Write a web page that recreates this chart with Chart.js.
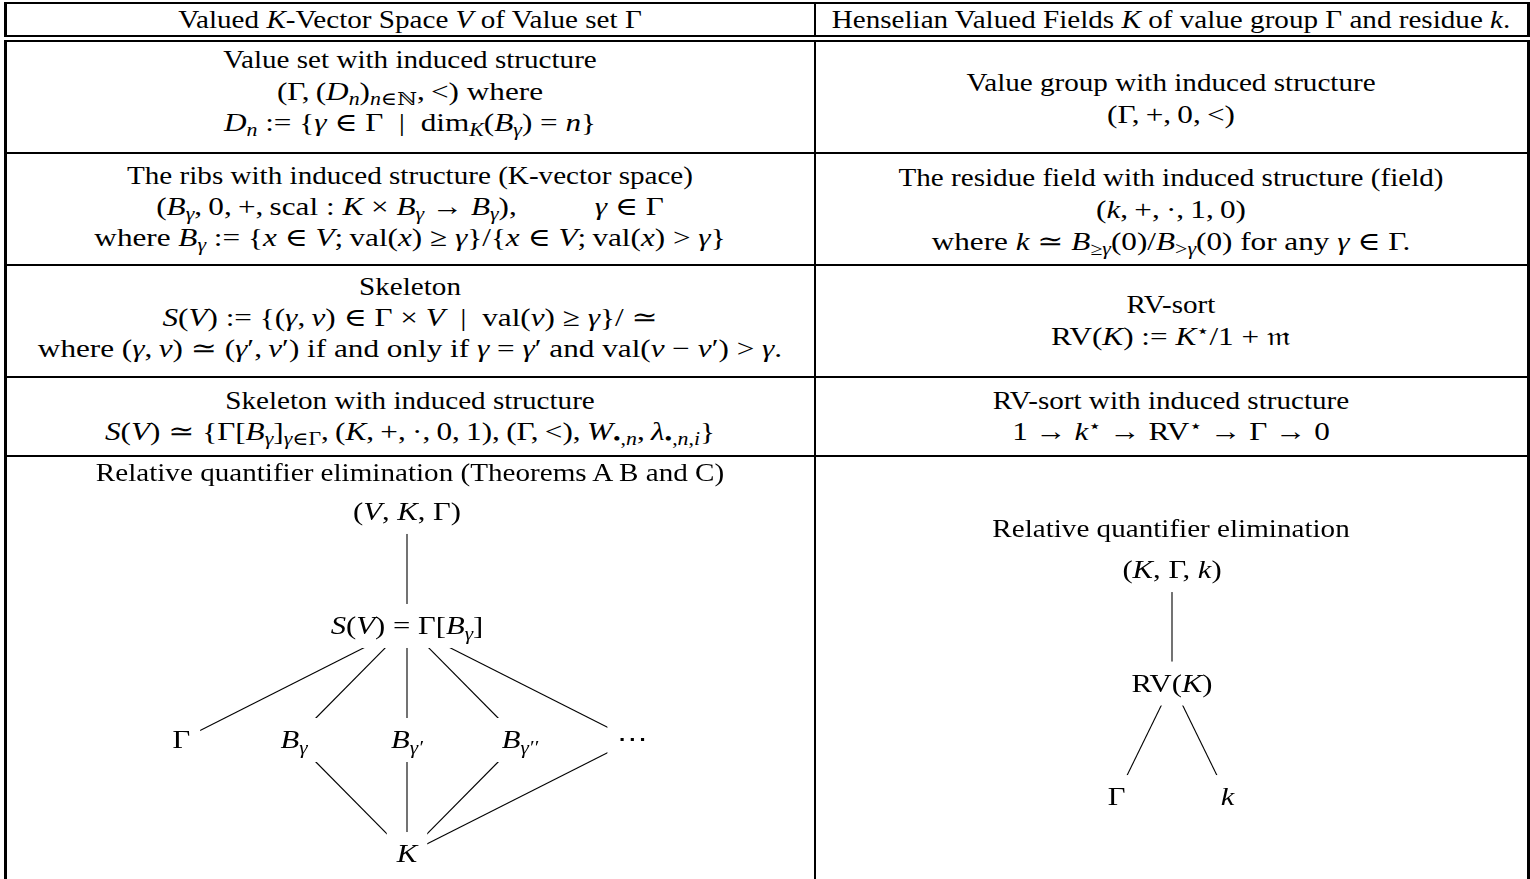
<!DOCTYPE html>
<html>
<head>
<meta charset="utf-8">
<script src="https://cdn.jsdelivr.net/npm/chart.js@4.4.1/dist/chart.umd.min.js"></script>
<style>
  html, body { margin: 0; padding: 0; background: #fff; overflow: hidden; }
  #page { position: relative; width: 1530px; height: 879px; overflow: hidden; }
  .rule { position: absolute; background: #000; }
  .txt {
    position: absolute; white-space: nowrap;
    font-family: "Liberation Serif", "DejaVu Serif", serif; font-size: 26px; line-height: 1; color: #000;
  }
  .txt sub { font-size: 0.7em; vertical-align: -0.3em; line-height: 0; }
  .txt sup { font-size: 0.7em; vertical-align: 0.45em; line-height: 0; }
  canvas { position: absolute; }
</style>
</head>
<body>
<div id="page">
  <canvas id="leftDiagram"></canvas>
  <canvas id="rightDiagram"></canvas>
</div>
<script>
// table texts
const headers = [
  'Valued <i>K</i>-Vector Space <i>V</i> of Value set Γ',
  'Henselian Valued Fields <i>K</i> of value group Γ and residue <i>k</i>.'
];
const leftCells = [
  ['Value set with induced structure',
   '(Γ,&thinsp;(<i>D<sub>n</sub></i>)<sub><i>n</i>∈ℕ</sub>,&thinsp;&lt;) where',
   '<i>D<sub>n</sub></i> := {<i>γ</i> ∈ Γ &nbsp;|&nbsp; dim<sub><i>K</i></sub>(<i>B<sub>γ</sub></i>) = <i>n</i>}'],
  ['The ribs with induced structure (K-vector space)',
   '(<i>B<sub>γ</sub></i>,&thinsp;0,&thinsp;+,&thinsp;scal : <i>K</i> × <i>B<sub>γ</sub></i> → <i>B<sub>γ</sub></i>),&emsp;&emsp;&ensp;<i>γ</i> ∈ Γ',
   'where <i>B<sub>γ</sub></i> := {<i>x</i> ∈ <i>V</i>;&thinsp;val(<i>x</i>) ≥ <i>γ</i>}/{<i>x</i> ∈ <i>V</i>;&thinsp;val(<i>x</i>) &gt; <i>γ</i>}'],
  ['Skeleton',
   '<i>S</i>(<i>V</i>) := {(<i>γ</i>,&thinsp;<i>v</i>) ∈ Γ × <i>V</i> &nbsp;|&nbsp; val(<i>v</i>) ≥ <i>γ</i>}/ ≃',
   'where (<i>γ</i>,&thinsp;<i>v</i>) ≃ (<i>γ</i>′,&thinsp;<i>v</i>′) if and only if <i>γ</i> = <i>γ</i>′ and val(<i>v</i> − <i>v</i>′) &gt; <i>γ</i>.'],
  ['Skeleton with induced structure',
   '<i>S</i>(<i>V</i>) ≃ {Γ[<i>B<sub>γ</sub></i>]<sub><i>γ</i>∈Γ</sub>,&thinsp;(<i>K</i>,&thinsp;+,&thinsp;·,&thinsp;0,&thinsp;1),&thinsp;(Γ,&thinsp;&lt;),&thinsp;<i>W</i><sub>•,<i>n</i></sub>,&thinsp;<i>λ</i><sub>•,<i>n</i>,<i>i</i></sub>}']
];
const rightCells = [
  ['Value group with induced structure',
   '(Γ,&thinsp;+,&thinsp;0,&thinsp;&lt;)'],
  ['The residue field with induced structure (field)',
   '(<i>k</i>,&thinsp;+,&thinsp;·,&thinsp;1,&thinsp;0)',
   'where <i>k</i> ≃ <i>B</i><sub>≥<i>γ</i></sub>(0)/<i>B</i><sub>&gt;<i>γ</i></sub>(0) for any <i>γ</i> ∈ Γ.'],
  ['RV-sort',
   'RV(<i>K</i>) := <i>K</i><sup>⋆</sup>/1 + 𝔪'],
  ['RV-sort with induced structure',
   '1 → <i>k</i><sup>⋆</sup> → RV<sup>⋆</sup> → Γ → 0']
];
const diagramTitles = [
  'Relative quantifier elimination (Theorems A B and C)',
  'Relative quantifier elimination'
];

// diagram nodes (grid column / row) and edges
const leftNodeLabels = [
  [['(', 'r'], ['V', 'i'], [', ', 'r'], ['K', 'i'], [', Γ)', 'r']],
  [['S', 'i'], ['(', 'r'], ['V', 'i'], [') = Γ[', 'r'], ['B', 'i'], ['γ', 's'], [']', 'r']],
  [['Γ', 'r']],
  [['B', 'i'], ['γ', 's']],
  [['B', 'i'], ['γ′', 's']],
  [['B', 'i'], ['γ′′', 's']],
  [['⋯', 'r']],
  [['K', 'i']]
];
const leftNodeCol = [2, 2, 0, 1, 2, 3, 4, 2];
const leftNodeRow = [0, 1, 2, 2, 2, 2, 2, 3];
const leftEdges = [[0, 1], [1, 2], [1, 3], [1, 4], [1, 5], [1, 6], [3, 7], [4, 7], [5, 7], [6, 7]];

const rightNodeLabels = [
  [['(', 'r'], ['K', 'i'], [', Γ, ', 'r'], ['k', 'i'], [')', 'r']],
  [['RV(', 'r'], ['K', 'i'], [')', 'r']],
  [['Γ', 'r']],
  [['k', 'i']]
];
const rightNodeCol = [0, 0, -0.5, 0.5];
const rightNodeRow = [0, 1, 2, 2];
const rightEdges = [[0, 1], [1, 2], [1, 3]];

// layout
const colX = [410, 1171];
const leftLineY = [[60, 92, 123], [176, 207, 238], [287, 318, 349], [401, 432]];
const rightLineY = [[83, 115], [178, 210, 242], [305, 337], [401, 432]];
const titleY = [473, 529];
const FONT = '"Liberation Serif", "DejaVu Serif", serif';
const TEXT_SX = 1.12;   // Times is narrower than Computer Modern
const MATH_SX = 1.2;
const LABEL_SX = 1.18;

const page = document.getElementById('page');

function rule(x, y, w, h) {
  const d = document.createElement('div');
  d.className = 'rule';
  d.style.left = x + 'px'; d.style.top = y + 'px';
  d.style.width = w + 'px'; d.style.height = h + 'px';
  page.appendChild(d);
}
function text(html, x, y, sx) {
  const d = document.createElement('div');
  d.className = 'txt';
  d.innerHTML = html;
  d.style.left = x + 'px'; d.style.top = y + 'px';
  d.style.transform = 'translate(-50%, -50%) scaleX(' + sx + ')';
  page.appendChild(d);
}
const isMath = l => /^(\(|<i>|where|RV\(|1 )/.test(l);

// borders
[2, 35, 40, 152, 264, 376, 455].forEach(y => rule(4, y, 1526, 2));
[[4, 3], [814, 2], [1527, 3]].forEach(([x, w]) => {
  rule(x, 2, w, 35);
  rule(x, 40, w, 839);
});

text(headers[0], colX[0], 20, TEXT_SX);
text(headers[1], colX[1], 20, TEXT_SX);
leftCells.forEach((lines, r) => lines.forEach((l, i) =>
  text(l, colX[0], leftLineY[r][i], isMath(l) ? MATH_SX : TEXT_SX)));
rightCells.forEach((lines, r) => lines.forEach((l, i) =>
  text(l, colX[1], rightLineY[r][i], isMath(l) ? MATH_SX : TEXT_SX)));
text(diagramTitles[0], colX[0], titleY[0], TEXT_SX);
text(diagramTitles[1], colX[1], titleY[1], TEXT_SX);

// labels drawn over the edges, white box hides the edge ends like xy-pic does
const nodeLabels = {
  id: 'nodeLabels',
  afterDatasetsDraw(chart, args, opts) {
    const ctx = chart.ctx;
    const xs = chart.scales.x, ys = chart.scales.y;
    const fontOf = st => (st === 'i' ? 'italic 26px ' : st === 's' ? 'italic 18px ' : '26px ') + FONT;
    ctx.save();
    opts.labels.forEach((segs, n) => {
      const px = xs.getPixelForValue(opts.cols[n]);
      const py = ys.getPixelForValue(opts.rows[n]);
      let w = 0;
      segs.forEach(([t, st]) => { ctx.font = fontOf(st); w += ctx.measureText(t).width; });
      ctx.fillStyle = '#fff';
      ctx.fillRect(px - w * LABEL_SX / 2 - 10, py - 22, w * LABEL_SX + 20, 44);
      ctx.save();
      ctx.translate(px, py);
      ctx.scale(LABEL_SX, 1);
      ctx.fillStyle = '#000';
      ctx.textBaseline = 'alphabetic';
      let x = -w / 2;
      segs.forEach(([t, st]) => {
        ctx.font = fontOf(st);
        ctx.fillText(t, x, 8 + (st === 's' ? 6 : 0));
        x += ctx.measureText(t).width;
      });
      ctx.restore();
    });
    ctx.restore();
  }
};

function diagram(id, box, range, labels, cols, rows, edges) {
  const cv = document.getElementById(id);
  cv.width = box.w; cv.height = box.h;
  cv.style.left = box.x + 'px'; cv.style.top = box.y + 'px';
  const datasets = edges.map(([a, b]) => ({
    data: [{ x: cols[a], y: rows[a] }, { x: cols[b], y: rows[b] }],
    showLine: true, borderColor: '#000', borderWidth: 1.1,
    pointRadius: 0, fill: false
  }));
  return new Chart(cv.getContext('2d'), {
    type: 'scatter',
    data: { datasets },
    options: {
      responsive: false,
      animation: false,
      events: [],
      layout: { padding: 0 },
      scales: {
        x: { type: 'linear', min: range.x0, max: range.x1, display: false },
        y: { type: 'linear', min: range.y0, max: range.y1, reverse: true, display: false }
      },
      plugins: {
        legend: { display: false },
        tooltip: { enabled: false },
        nodeLabels: { labels, cols, rows }
      }
    },
    plugins: [nodeLabels]
  });
}

diagram('leftDiagram', { x: 12, y: 457, w: 790, h: 422 },
  { x0: -1.5, x1: 5.5, y0: -0.482, y1: 3.219 },
  leftNodeLabels, leftNodeCol, leftNodeRow, leftEdges);
diagram('rightDiagram', { x: 822, y: 457, w: 700, h: 422 },
  { x0: -3.153, x1: 3.153, y0: -0.996, y1: 2.722 },
  rightNodeLabels, rightNodeCol, rightNodeRow, rightEdges);
</script>
</body>
</html>
